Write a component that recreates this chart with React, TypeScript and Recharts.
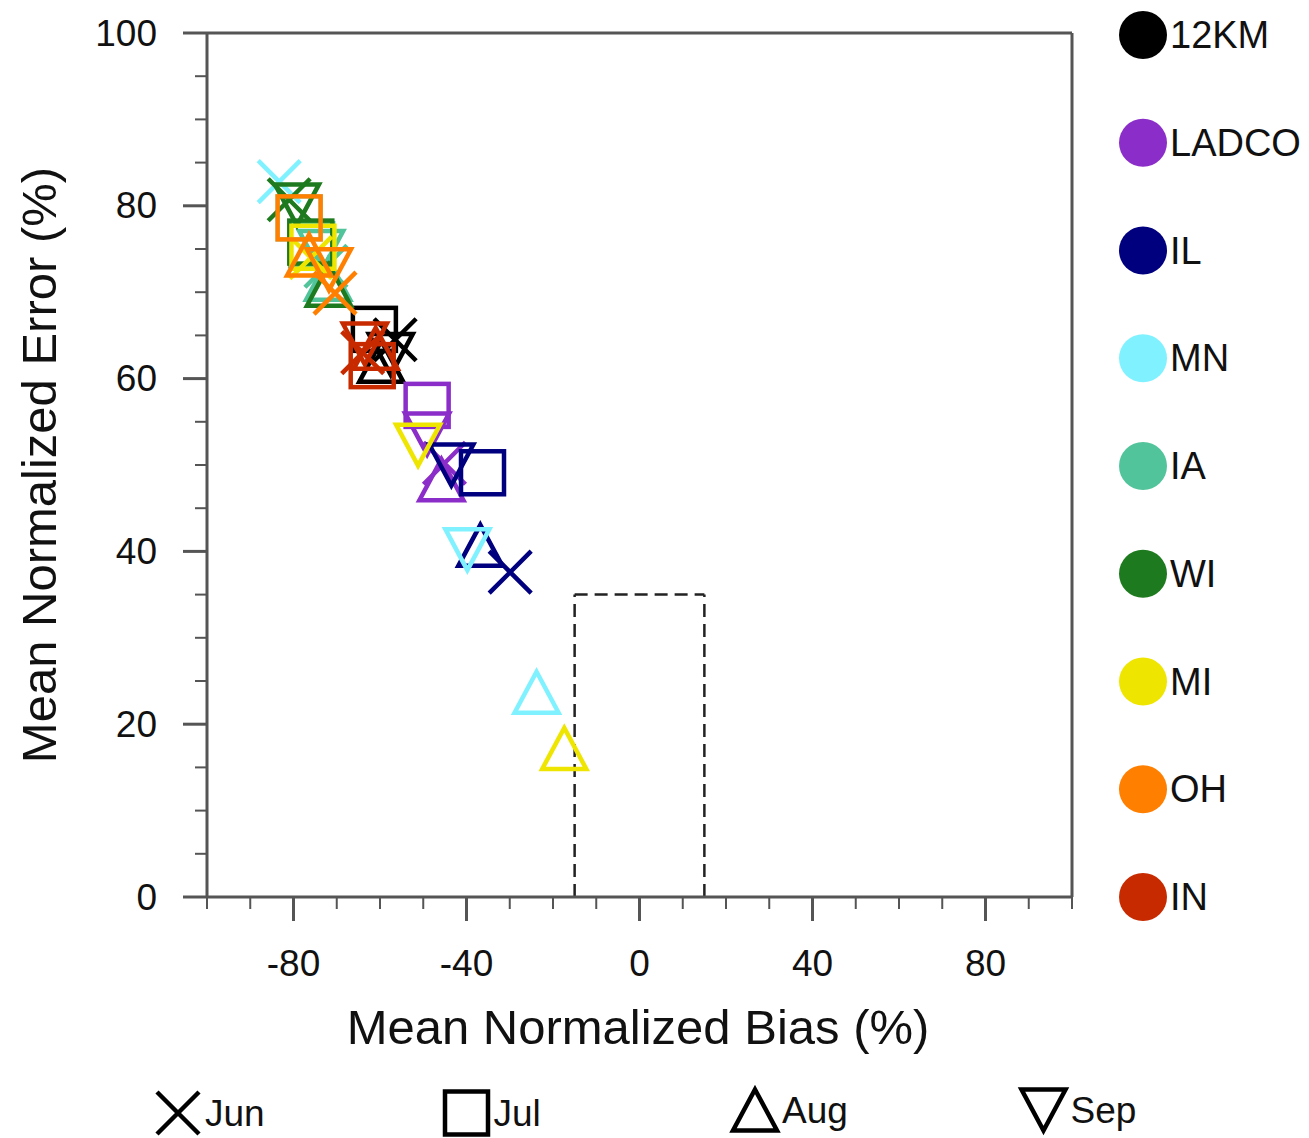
import React from 'react';
import { ScatterChart, Scatter, XAxis, YAxis, ReferenceLine } from 'recharts';

// ---------- data ----------
const months = ['Jun', 'Jul', 'Aug', 'Sep'];
const seriesNames = ['12KM', 'LADCO', 'IL', 'MN', 'IA', 'WI', 'MI', 'OH', 'IN'];
const seriesColors = ['#000000', '#8B2DC8', '#00007F', '#80F2FF', '#52C49C', '#1E7A1E', '#EEE600', '#FF7F00', '#C82A00'];

// values for [Jun, Jul, Aug, Sep]
const bias12KM = [-56.5, -61.3, -59.7, -57.5];
const error12KM = [64.5, 65.7, 62.0, 62.8];
const biasLADCO = [-45.1, -49.1, -45.8, -49.1];
const errorLADCO = [50.2, 56.9, 48.3, 53.6];
const biasIL = [-29.9, -36.3, -36.8, -43.5];
const errorIL = [37.6, 49.1, 40.7, 50.0];
const biasMN = [-83.3, -78.7, -23.8, -39.8];
const errorMN = [82.8, 78.6, 23.7, 40.2];
const biasIA = [-72.5, -75.8, -72.0, -73.6];
const errorIA = [73.0, 75.5, 71.5, 74.7];
const biasWI = [-81.0, -76.0, -71.8, -79.2];
const errorWI = [80.7, 75.8, 70.8, 80.1];
const biasMI = [-76.0, -75.5, -17.4, -51.2];
const errorMI = [74.0, 75.2, 17.2, 52.3];
const biasOH = [-70.4, -78.7, -76.4, -71.8];
const errorOH = [69.9, 78.6, 74.3, 72.6];
const biasIN = [-64.0, -61.8, -61.0, -63.5];
const errorIN = [63.0, 61.5, 63.5, 64.0];

const allBias = [bias12KM, biasLADCO, biasIL, biasMN, biasIA, biasWI, biasMI, biasOH, biasIN];
const allError = [error12KM, errorLADCO, errorIL, errorMN, errorIA, errorWI, errorMI, errorOH, errorIN];

const xTicks = [-100, -90, -80, -70, -60, -50, -40, -30, -20, -10, 0, 10, 20, 30, 40, 50, 60, 70, 80, 90, 100];
const yTicks = [0, 5, 10, 15, 20, 25, 30, 35, 40, 45, 50, 55, 60, 65, 70, 75, 80, 85, 90, 95, 100];
const targetBias = [-15, 15];
const targetError = 35;

const FONT = '"Liberation Sans", Arial, Helvetica, sans-serif';
const AXIS = '#555555';
const MSW = 4.5;

// ---------- markers ----------
function Mark({ cx, cy, kind, color, sw = MSW }: { cx: number; cy: number; kind: number; color: string; sw?: number }) {
  if (kind === 0) {
    const h = 21;
    return (
      <path
        d={`M${cx - h},${cy - h}L${cx + h},${cy + h}M${cx - h},${cy + h}L${cx + h},${cy - h}`}
        stroke={color}
        strokeWidth={sw}
        fill="none"
      />
    );
  }
  if (kind === 1) {
    const h = 21.5;
    return <rect x={cx - h} y={cy - h} width={2 * h} height={2 * h} stroke={color} strokeWidth={sw} fill="none" />;
  }
  if (kind === 2) {
    const w = 22, h = 20.5;
    return (
      <path d={`M${cx},${cy - h}L${cx + w},${cy + h}L${cx - w},${cy + h}Z`} stroke={color} strokeWidth={sw} fill="none" strokeLinejoin="miter" />
    );
  }
  const w = 22, h = 20.5;
  return (
    <path d={`M${cx - w},${cy - h}L${cx + w},${cy - h}L${cx},${cy + h}Z`} stroke={color} strokeWidth={sw} fill="none" strokeLinejoin="miter" />
  );
}

// ---------- ticks ----------
const YTick = (p: any) => {
  const v = p.payload.value;
  const major = v % 20 === 0;
  return (
    <g>
      <line x1={p.x - (major ? 24 : 12)} x2={p.x} y1={p.y} y2={p.y} stroke={AXIS} strokeWidth={major ? 3 : 2} />
      {major && (
        <text x={p.x - 50} y={p.y} textAnchor="end" dominantBaseline="central" fontFamily={FONT} fontSize={37} fill="#111">
          {v}
        </text>
      )}
    </g>
  );
};

const XTick = (p: any) => {
  const v = p.payload.value;
  const major = v % 40 === 0;
  return (
    <g>
      <line x1={p.x} x2={p.x} y1={p.y} y2={p.y + (major ? 24 : 12)} stroke={AXIS} strokeWidth={major ? 3 : 2} />
      {major && (
        <text x={p.x} y={p.y + 66} textAnchor="middle" dominantBaseline="central" fontFamily={FONT} fontSize={37} fill="#111">
          {v}
        </text>
      )}
    </g>
  );
};

export default function App() {
  const seriesData = seriesNames.map((name, i) =>
    months.map((m, k) => ({ x: allBias[i][k], y: allError[i][k], m: k, name, month: m }))
  );

  return (
    <div style={{ position: 'absolute', left: 0, top: 0, width: 1309, height: 1138, background: '#fff' }}>
      <ScatterChart width={1309} height={1138} margin={{ top: 33, right: 237, bottom: 141, left: 0 }}>
        <XAxis
          type="number"
          dataKey="x"
          domain={[-100, 100]}
          ticks={xTicks}
          interval={0}
          height={100}
          tickSize={0}
          tickMargin={0}
          tickLine={false}
          axisLine={{ stroke: AXIS, strokeWidth: 3 }}
          tick={<XTick />}
          allowDataOverflow
        />
        <YAxis
          type="number"
          dataKey="y"
          domain={[0, 100]}
          ticks={yTicks}
          interval={0}
          width={207}
          tickSize={0}
          tickMargin={0}
          tickLine={false}
          axisLine={{ stroke: AXIS, strokeWidth: 3 }}
          tick={<YTick />}
          allowDataOverflow
        />
        <ReferenceLine y={100} stroke={AXIS} strokeWidth={3} ifOverflow="visible" />
        <ReferenceLine x={100} stroke={AXIS} strokeWidth={3} ifOverflow="visible" />
        <ReferenceLine
          segment={[{ x: targetBias[0], y: 0 }, { x: targetBias[0], y: targetError }]}
          stroke="#222"
          strokeWidth={2.5}
          strokeDasharray="13 7"
          ifOverflow="visible"
        />
        <ReferenceLine
          segment={[{ x: targetBias[0], y: targetError }, { x: targetBias[1], y: targetError }]}
          stroke="#222"
          strokeWidth={2.5}
          strokeDasharray="13 7"
          ifOverflow="visible"
        />
        <ReferenceLine
          segment={[{ x: targetBias[1], y: 0 }, { x: targetBias[1], y: targetError }]}
          stroke="#222"
          strokeWidth={2.5}
          strokeDasharray="13 7"
          ifOverflow="visible"
        />
        {seriesData.map((d, i) => (
          <Scatter
            key={seriesNames[i]}
            name={seriesNames[i]}
            data={d}
            isAnimationActive={false}
            shape={(p: any) => <Mark cx={p.cx} cy={p.cy} kind={p.payload.m} color={seriesColors[i]} />}
          />
        ))}
      </ScatterChart>

      <svg width={1309} height={1138} style={{ position: 'absolute', left: 0, top: 0, pointerEvents: 'none' }}>
        {/* axis titles */}
        <text x={638} y={1044} textAnchor="middle" fontFamily={FONT} fontSize={49} fill="#111">
          Mean Normalized Bias (%)
        </text>
        <text transform="translate(56,465) rotate(-90)" textAnchor="middle" fontFamily={FONT} fontSize={49} fill="#111">
          Mean Normalized Error (%)
        </text>

        {/* series legend */}
        {seriesNames.map((n, i) => {
          const cy = 35 + i * 107.75;
          return (
            <g key={n}>
              <circle cx={1143} cy={cy} r={24} fill={seriesColors[i]} />
              <text x={1170} y={cy} dominantBaseline="central" fontFamily={FONT} fontSize={38} fill="#111">
                {n}
              </text>
            </g>
          );
        })}

        {/* month legend */}
        {months.map((m, k) => {
          const cx = 178 + k * 288.5;
          const cy = k >= 2 ? 1110 : 1113;
          return (
            <g key={m}>
              <Mark cx={cx} cy={cy} kind={k} color="#000" />
              <text x={cx + 27} y={cy} dominantBaseline="central" fontFamily={FONT} fontSize={37} fill="#111">
                {m}
              </text>
            </g>
          );
        })}
      </svg>
    </div>
  );
}
